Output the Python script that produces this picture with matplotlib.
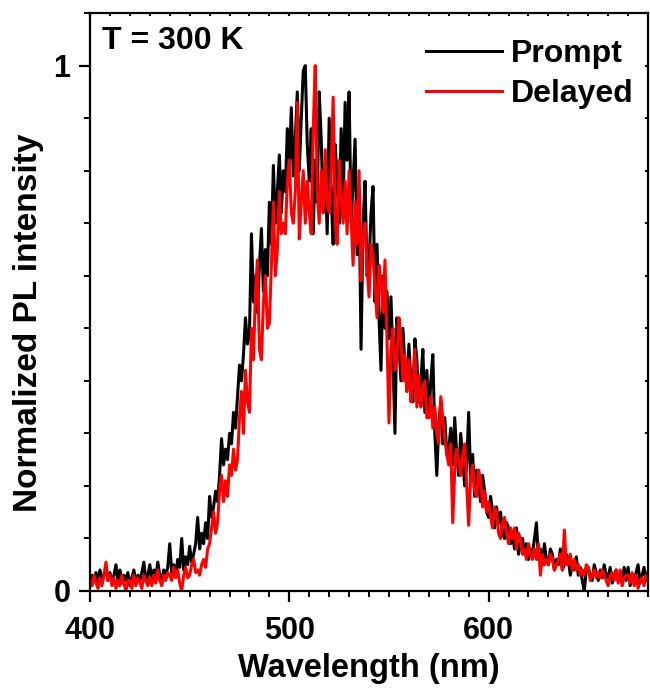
import numpy as np
import matplotlib
matplotlib.use('Agg')
import matplotlib.pyplot as plt
from matplotlib.ticker import MultipleLocator
from matplotlib import lines as mlines

# Wavelength grid (nm), 1 nm steps
wavelength = np.arange(400, 681, 1)

# Prompt PL spectrum (normalized)
prompt = [
    0.01, 0.03, 0.02, 0.035, 0.015, 0.04, 0.02, 0.03, 0.045, 0.02,      # 400
    0.035, 0.015, 0.03, 0.05, 0.02, 0.04, 0.015, 0.03, 0.02, 0.035,     # 410
    0.01, 0.025, 0.04, 0.015, 0.03, 0.02, 0.035, 0.055, 0.02, 0.03,     # 420
    0.05, 0.02, 0.04, 0.025, 0.055, 0.03, 0.02, 0.04, 0.03, 0.045,      # 430
    0.09, 0.035, 0.05, 0.03, 0.06, 0.045, 0.10, 0.04, 0.065, 0.05,      # 440
    0.085, 0.055, 0.07, 0.09, 0.14, 0.08, 0.11, 0.09, 0.13, 0.10,       # 450
    0.18, 0.14, 0.16, 0.19, 0.17, 0.22, 0.29, 0.24, 0.27, 0.25,         # 460
    0.30, 0.28, 0.34, 0.31, 0.37, 0.43, 0.40, 0.45, 0.52, 0.47,         # 470
    0.49, 0.68, 0.55, 0.60, 0.53, 0.62, 0.69, 0.57, 0.65, 0.60,         # 480
    0.74, 0.66, 0.81, 0.70, 0.76, 0.83, 0.72, 0.80, 0.76, 0.88,         # 490
    0.81, 0.92, 0.79, 0.86, 0.95, 0.80, 0.90, 0.99, 1.00, 0.85,         # 500
    0.78, 0.88, 0.68, 0.82, 0.74, 0.95, 0.86, 0.72, 0.80, 0.68,         # 510
    0.90, 0.75, 0.66, 0.85, 0.78, 0.70, 0.88, 0.74, 0.93, 0.82,         # 520
    0.95, 0.70, 0.78, 0.86, 0.64, 0.76, 0.46, 0.70, 0.78, 0.60,         # 530
    0.62, 0.72, 0.77, 0.55, 0.66, 0.52, 0.42, 0.60, 0.50, 0.57,         # 540
    0.48, 0.56, 0.44, 0.30, 0.52, 0.47, 0.40, 0.50, 0.43, 0.38,         # 550
    0.47, 0.40, 0.36, 0.48, 0.44, 0.36, 0.40, 0.46, 0.34, 0.42,         # 560
    0.33, 0.40, 0.45, 0.30, 0.22, 0.32, 0.36, 0.28, 0.33, 0.26,         # 570
    0.27, 0.31, 0.24, 0.33, 0.26, 0.22, 0.30, 0.25, 0.20, 0.24,         # 580
    0.34, 0.21, 0.26, 0.18, 0.23, 0.20, 0.17, 0.22, 0.19, 0.15,         # 590
    0.14, 0.18, 0.15, 0.12, 0.16, 0.13, 0.15, 0.11, 0.10, 0.13,         # 600
    0.12, 0.09, 0.11, 0.08, 0.12, 0.07, 0.09, 0.10, 0.07, 0.09,         # 610
    0.06, 0.08, 0.07, 0.10, 0.13, 0.06, 0.08, 0.05, 0.09, 0.06,         # 620
    0.05, 0.08, 0.07, 0.04, 0.06, 0.05, 0.08, 0.04, 0.05, 0.07,         # 630
    0.06, 0.03, 0.05, 0.04, 0.065, 0.03, 0.045, 0.02, 0.0, 0.04,        # 640
    0.045, 0.03, 0.02, 0.05, 0.035, 0.02, 0.04, 0.025, 0.05, 0.03,      # 650
    0.025, 0.045, 0.015, 0.03, 0.04, 0.02, 0.035, 0.015, 0.045, 0.02,   # 660
    0.045, 0.01, 0.03, 0.02, 0.035, 0.05, 0.015, 0.03, 0.045, 0.02,     # 670
    0.035,                                                              # 680
]

# Delayed PL spectrum (normalized)
delayed = [
    0.02, 0.01, 0.03, 0.015, 0.005, 0.025, 0.01, 0.03, 0.055, 0.02,     # 400
    0.03, 0.01, 0.025, 0.005, 0.02, 0.01, 0.03, 0.015, 0.0, 0.02,       # 410
    0.02, 0.005, 0.03, 0.01, 0.025, 0.015, 0.005, 0.03, 0.02, 0.01,     # 420
    0.025, 0.01, 0.03, 0.015, 0.04, 0.02, 0.01, 0.03, 0.02, 0.035,      # 430
    0.03, 0.02, 0.045, 0.025, 0.04, 0.015, 0.0, 0.03, 0.045, 0.025,     # 440
    0.03, 0.05, 0.06, 0.035, 0.04, 0.03, 0.05, 0.06, 0.045, 0.08,       # 450
    0.09, 0.12, 0.15, 0.11, 0.13, 0.19, 0.22, 0.17, 0.21, 0.18,         # 460
    0.24, 0.22, 0.27, 0.23, 0.25, 0.33, 0.38, 0.30, 0.42, 0.36,         # 470
    0.34, 0.50, 0.44, 0.57, 0.63, 0.46, 0.44, 0.55, 0.60, 0.50,         # 480
    0.51, 0.62, 0.74, 0.60, 0.65, 0.76, 0.68, 0.70, 0.68, 0.78,         # 490
    0.82, 0.72, 0.70, 0.76, 0.93, 0.67, 0.74, 0.80, 0.70, 0.78,         # 500
    0.72, 0.68, 0.88, 1.00, 0.76, 0.70, 0.80, 0.72, 0.84, 0.74,         # 510
    0.72, 0.80, 0.94, 0.70, 0.66, 0.82, 0.75, 0.70, 0.78, 0.68,         # 520
    0.80, 0.71, 0.62, 0.74, 0.66, 0.80, 0.59, 0.68, 0.70, 0.62,         # 530
    0.56, 0.66, 0.64, 0.58, 0.52, 0.62, 0.59, 0.53, 0.63, 0.48,         # 540
    0.32, 0.46, 0.50, 0.42, 0.44, 0.52, 0.48, 0.40, 0.45, 0.38,         # 550
    0.44, 0.36, 0.39, 0.46, 0.35, 0.41, 0.35, 0.38, 0.40, 0.33,         # 560
    0.33, 0.37, 0.31, 0.35, 0.30, 0.28, 0.37, 0.33, 0.29, 0.26,         # 570
    0.24, 0.28, 0.13, 0.23, 0.27, 0.25, 0.22, 0.26, 0.28, 0.20,         # 580
    0.125, 0.22, 0.24, 0.19, 0.18, 0.23, 0.21, 0.16, 0.19, 0.15,        # 590
    0.17, 0.14, 0.12, 0.16, 0.15, 0.11, 0.10, 0.13, 0.14, 0.11,         # 600
    0.09, 0.12, 0.10, 0.12, 0.08, 0.11, 0.10, 0.07, 0.08, 0.06,         # 610
    0.09, 0.07, 0.06, 0.08, 0.06, 0.09, 0.03, 0.07, 0.05, 0.06,         # 620
    0.05, 0.07, 0.06, 0.04, 0.05, 0.06, 0.07, 0.04, 0.116, 0.05,        # 630
    0.05, 0.07, 0.04, 0.06, 0.04, 0.05, 0.03, 0.04, 0.03, 0.05,         # 640
    0.045, 0.02, 0.03, 0.04, 0.025, 0.035, 0.025, 0.04, 0.03, 0.02,     # 650
    0.01, 0.03, 0.035, 0.02, 0.04, 0.015, 0.04, 0.01, 0.025, 0.03,      # 660
    0.03, 0.015, 0.035, 0.01, 0.03, 0.005, 0.02, 0.025, 0.01, 0.03,     # 670
    0.02,                                                               # 680
]

series_labels = ['Prompt', 'Delayed']
series_colors = ['black', 'red']

plt.rcParams['font.family'] = ['Liberation Sans', 'DejaVu Sans']
plt.rcParams['font.weight'] = 'bold'
plt.rcParams['axes.labelweight'] = 'bold'

fig = plt.figure(figsize=(6.5, 6.9), dpi=100)
ax = fig.add_axes([0.1385, 0.1435, 0.8585, 0.8375])

for y, lab, col in zip([prompt, delayed], series_labels, series_colors):
    ax.plot(wavelength, y, color=col, linewidth=2.2, label=lab)

ax.set_xlim(400, 680)
ax.set_ylim(0, 1.1)
ax.xaxis.set_major_locator(MultipleLocator(100))
ax.xaxis.set_minor_locator(MultipleLocator(10))
ax.set_yticks([0, 1])
ax.set_yticklabels(['0', '1'])
ax.yaxis.set_minor_locator(MultipleLocator(0.1))

for s in ax.spines.values():
    s.set_linewidth(1.6)

ax.tick_params(which='major', direction='out', length=8, width=1.6,
               labelsize=22)
ax.tick_params(which='minor', direction='out', length=4, width=1.4)
ax.tick_params(axis='x', which='major', pad=10)
ax.tick_params(axis='y', which='major', pad=6)
ax.tick_params(which='both', top=True, right=True)
# short inward ticks on the top and right axes
for t in ax.xaxis.get_major_ticks() + ax.xaxis.get_minor_ticks():
    t.tick2line.set_marker(mlines.TICKDOWN)
    t.tick2line.set_markersize(2.5)
for t in ax.yaxis.get_major_ticks() + ax.yaxis.get_minor_ticks():
    t.tick2line.set_marker(mlines.TICKLEFT)
    t.tick2line.set_markersize(2.5)

ax.set_xlabel('Wavelength (nm)', fontsize=23.5)
ax.set_ylabel('Normalized PL intensity', fontsize=24)
ax.xaxis.set_label_coords(0.5, -0.108)
ax.yaxis.set_label_coords(-0.083, 0.4637)

ax.text(0.022, 0.978, 'T = 300 K', transform=ax.transAxes,
        fontsize=23, fontweight='bold', va='top', ha='left')

ax.legend(loc='upper right', bbox_to_anchor=(1.003, 0.982), frameon=False,
          fontsize=23, handlelength=2.35, handletextpad=0.3,
          labelspacing=0.3, borderaxespad=0.1)

plt.savefig('out.png', dpi=100)
